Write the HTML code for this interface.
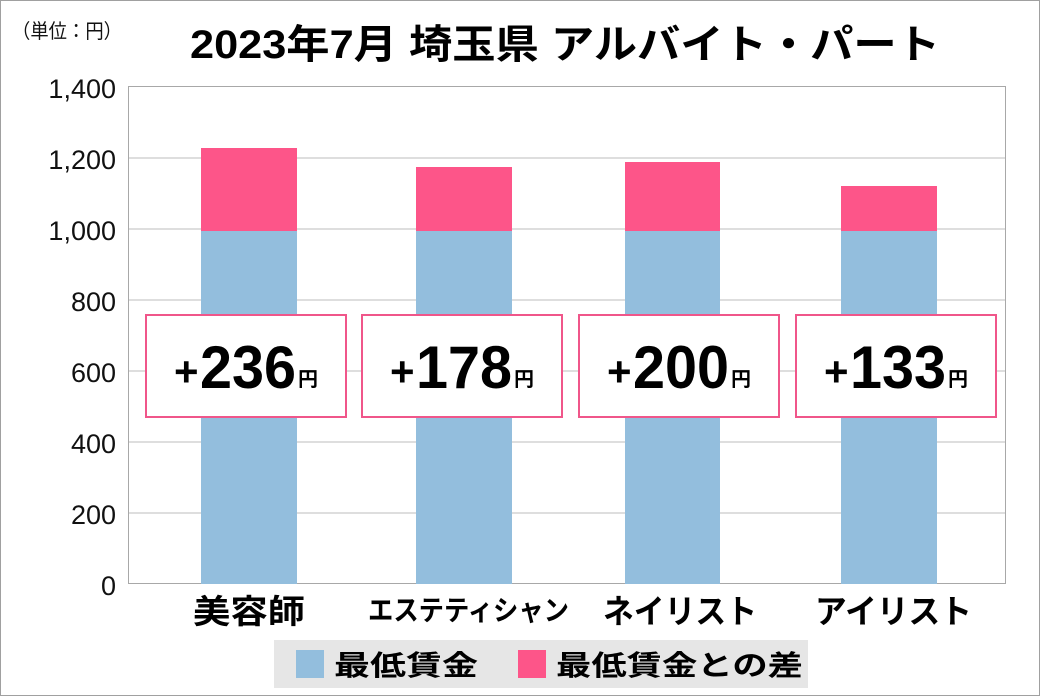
<!DOCTYPE html>
<html><head><meta charset="utf-8"><style>
html,body{margin:0;padding:0;background:#fff}
svg{display:block;font-family:"Liberation Sans","Noto Sans CJK JP",sans-serif}
</style></head><body>
<svg width="1040" height="696" viewBox="0 0 1040 696">
<rect x="0.5" y="0.5" width="1039" height="695" fill="#fff" stroke="#a0a0a0"/>
<text x="12" y="38" font-size="20" fill="#111" textLength="110" lengthAdjust="spacingAndGlyphs">（単位：円）</text>
<text x="190" y="58" font-size="40" font-weight="bold" fill="#000" textLength="750" lengthAdjust="spacingAndGlyphs">2023年7月 埼玉県 アルバイト・パート</text>
<g stroke="#bdbdbd" stroke-width="1">
<line x1="128" y1="158" x2="1006" y2="158"/>
<line x1="128" y1="229" x2="1006" y2="229"/>
<line x1="128" y1="300" x2="1006" y2="300"/>
<line x1="128" y1="371" x2="1006" y2="371"/>
<line x1="128" y1="442" x2="1006" y2="442"/>
<line x1="128" y1="513" x2="1006" y2="513"/>
</g>
<rect x="128.5" y="86.5" width="877" height="497" fill="none" stroke="#a8a8a8"/>
<g font-size="27" fill="#111" text-anchor="end">
<text x="116" y="98">1,400</text>
<text x="116" y="169">1,200</text>
<text x="116" y="240">1,000</text>
<text x="116" y="311">800</text>
<text x="116" y="382">600</text>
<text x="116" y="453">400</text>
<text x="116" y="524">200</text>
<text x="116" y="595">0</text>
</g>
<g fill="#93bedd">
<rect x="201" y="231" width="96" height="353"/>
<rect x="416" y="231" width="96" height="353"/>
<rect x="625" y="231" width="95" height="353"/>
<rect x="841" y="231" width="96" height="353"/>
</g>
<g fill="#fd5589">
<rect x="201" y="148" width="96" height="83"/>
<rect x="416" y="167" width="96" height="64"/>
<rect x="625" y="162" width="95" height="69"/>
<rect x="841" y="186" width="96" height="45"/>
</g>
<g fill="#fff" stroke="#f0568a" stroke-width="2">
<rect x="146" y="315" width="200" height="102"/>
<rect x="362" y="315" width="200" height="102"/>
<rect x="579" y="315" width="200" height="102"/>
<rect x="796" y="315" width="200" height="102"/>
</g>
<g font-weight="bold" fill="#000">
<text x="174" y="386" font-size="42">+</text><text x="200" y="388" font-size="60" textLength="96" lengthAdjust="spacingAndGlyphs">236</text><text x="298" y="386" font-size="20">円</text>
<text x="390" y="386" font-size="42">+</text><text x="416" y="388" font-size="60" textLength="96" lengthAdjust="spacingAndGlyphs">178</text><text x="514" y="386" font-size="20">円</text>
<text x="607" y="386" font-size="42">+</text><text x="633" y="388" font-size="60" textLength="96" lengthAdjust="spacingAndGlyphs">200</text><text x="731" y="386" font-size="20">円</text>
<text x="824" y="386" font-size="42">+</text><text x="850" y="388" font-size="60" textLength="96" lengthAdjust="spacingAndGlyphs">133</text><text x="948" y="386" font-size="20">円</text>
</g>
<g font-size="33" font-weight="bold" fill="#000">
<text x="193" y="623" textLength="112" lengthAdjust="spacingAndGlyphs">美容師</text>
<text x="368" y="620" font-size="28" textLength="201" lengthAdjust="spacingAndGlyphs">エステティシャン</text>
<text x="603" y="623" textLength="154" lengthAdjust="spacingAndGlyphs">ネイリスト</text>
<text x="815" y="623" textLength="157" lengthAdjust="spacingAndGlyphs">アイリスト</text>
</g>
<rect x="274" y="640" width="534" height="48" fill="#e6e6e6"/>
<rect x="296" y="650" width="28" height="28" fill="#93bedd"/>
<text x="334" y="675" font-size="28" font-weight="bold" fill="#000" textLength="144" lengthAdjust="spacingAndGlyphs">最低賃金</text>
<rect x="518" y="650" width="28" height="28" fill="#fd5589"/>
<text x="556" y="675" font-size="28" font-weight="bold" fill="#000" textLength="247" lengthAdjust="spacingAndGlyphs">最低賃金との差</text>
</svg>
</body></html>
